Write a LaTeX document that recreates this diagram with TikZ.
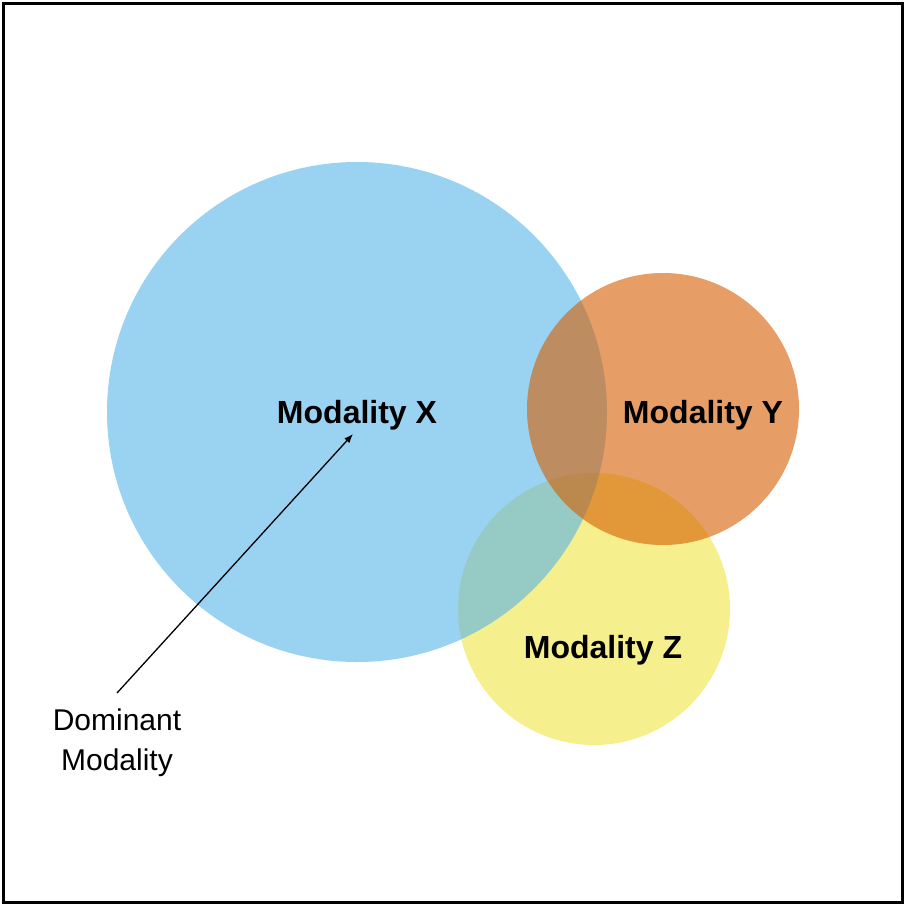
\documentclass[tikz,border=0pt]{standalone}
\usepackage{fontspec}
\setmainfont{Liberation Sans}
\usepackage{xcolor}
\usetikzlibrary{arrows.meta,positioning}
\definecolor{skyblue}{HTML}{56B4E9}
\definecolor{vermillion}{HTML}{D55E00}
\definecolor{okyellow}{HTML}{F0E442}

\begin{document}
\begin{tikzpicture}[x=1pt,y=-1pt,
  modality/.style={circle,draw=none,fill opacity=0.6,inner sep=0pt},
  setlabel/.style={font=\fontsize{32}{36}\selectfont\bfseries},
  note/.style={font=\fontsize{30}{40}\selectfont,align=center,inner xsep=2pt,inner ysep=16pt}]
\useasboundingbox (0,0) rectangle (905,905);
\draw[line width=3pt] (3.5,3.5) rectangle (902.5,902.5);
% the three modalities
\node[modality,fill=okyellow,minimum size=272] (Z) at (594,609) {};
\node[modality,fill=skyblue,minimum size=500] (X) at (357,412) {};
\node[modality,fill=vermillion,minimum size=272] (Y) at (663,409) {};
\node[setlabel] (labX) at (357,415) {Modality X};
\node[setlabel] (labY) at (703,415) {Modality Y};
\node[setlabel] (labZ) at (603,650) {Modality Z};
% pointer
\node[note,below] (dom) at (117,693) {Dominant\\Modality};
\coordinate (tip) at (353,434);
\draw[-{Latex[length=9pt,width=7pt]},line width=1.3pt] (dom.north) -- (tip);
\end{tikzpicture}
\end{document}
